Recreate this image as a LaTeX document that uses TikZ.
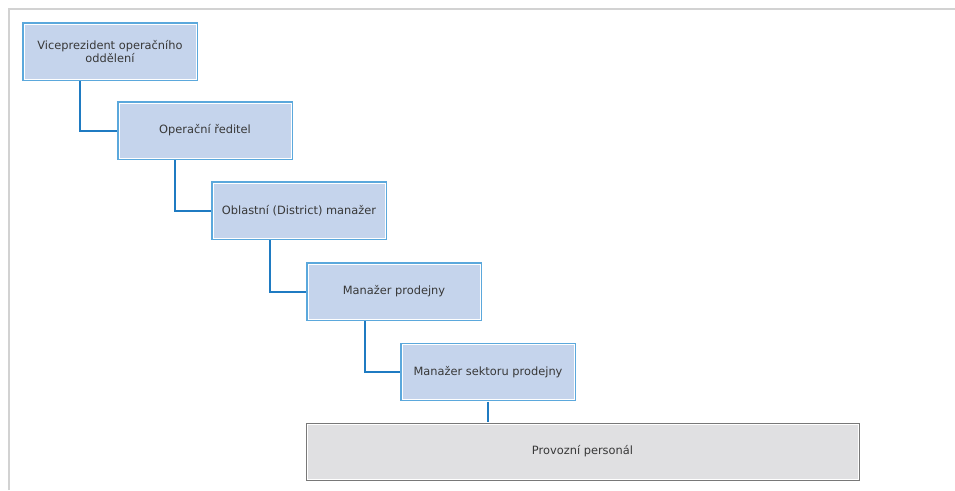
\documentclass[tikz,border=0pt]{standalone}
\usepackage{fontspec}
\setmainfont{DejaVu Sans}
\definecolor{boxfill}{HTML}{C5D4EC}
\definecolor{boxline}{HTML}{5BA8DC}
\definecolor{conn}{HTML}{1F7BC2}
\definecolor{grayfill}{HTML}{E0E0E2}
\definecolor{grayline}{HTML}{787878}
\definecolor{frame}{HTML}{D2D2D2}
\definecolor{txt}{HTML}{383838}
\begin{document}
\begin{tikzpicture}[x=1pt,y=-1pt,
  rolebox/.style={rectangle, minimum width=172pt, minimum height=55pt, inner sep=0pt,
    fill=boxfill, draw=white, line width=1pt,
    preaction={draw=boxline, line width=3.4pt},
    text=txt, font=\fontsize{11.4pt}{12.5pt}\selectfont, align=center},
  staffbox/.style={rectangle, minimum width=551pt, minimum height=55pt, inner sep=0pt,
    fill=grayfill, draw=white, line width=1pt,
    preaction={draw=grayline, line width=3pt},
    text=txt, font=\fontsize{11.4pt}{12.5pt}\selectfont},
  link/.style={draw=conn, line width=2pt}]
\useasboundingbox (0,0) rectangle (955,490);
\draw[frame, line width=1.6pt] (9,490) -- (9,9) -- (955,9);
\node[rolebox] (b1) at (110,51.5) {Viceprezident operačního\\oddělení};
\node[rolebox] (b2) at (205,130.5) {Operační ředitel};
\node[rolebox] (b3) at (299,210.5) {Oblastní (District) manažer};
\node[rolebox] (b4) at (394,291.5) {Manažer prodejny};
\node[rolebox] (b5) at (488,372) {Manažer sektoru prodejny};
\node[staffbox] (b6) at (582.5,451.5) {Provozní personál};
\draw[link] ([xshift=-30pt,yshift=-1.7pt]b1.south) |- ([xshift=-1.7pt]b2.west);
\draw[link] ([xshift=-30pt,yshift=-1.7pt]b2.south) |- ([xshift=-1.7pt]b3.west);
\draw[link] ([xshift=-29pt,yshift=-1.7pt]b3.south) |- ([xshift=-1.7pt]b4.west);
\draw[link] ([xshift=-29pt,yshift=-1.7pt]b4.south) |- ([xshift=-1.7pt]b5.west);
\draw[link] ([yshift=-1.7pt]b5.south) -- ([yshift=1.5pt]b5.south |- b6.north);
\end{tikzpicture}
\end{document}
